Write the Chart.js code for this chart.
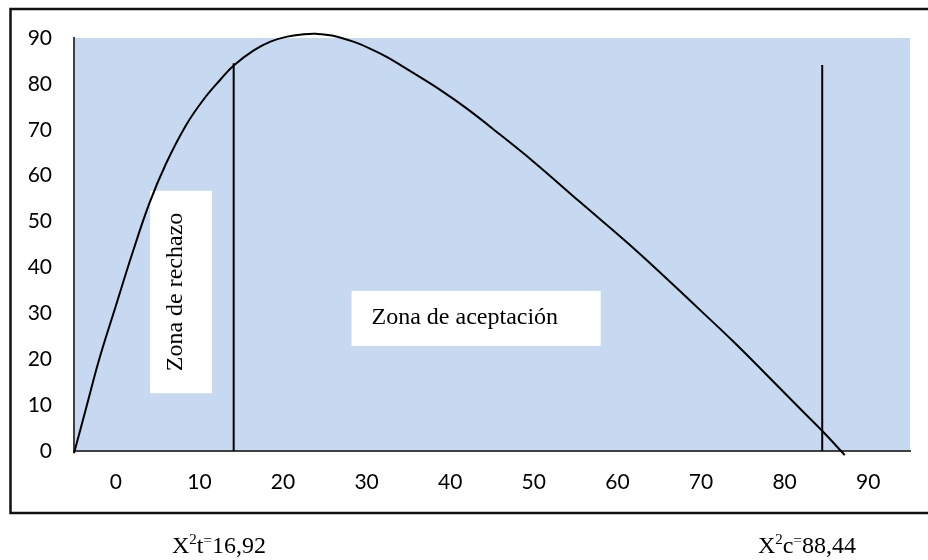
<!DOCTYPE html>
<html>
<head>
<meta charset="utf-8">
<script src="https://cdn.jsdelivr.net/npm/chart.js@4"></script>
<style>
  html, body { margin: 0; padding: 0; background: #fff; }
  #wrap { width: 928px; height: 560px; }
</style>
</head>
<body>
<div id="wrap"><canvas id="chiChart"></canvas></div>
<script>
// curva chi-cuadrado
const curveX = [-5, -3.5, -2.0, 0, 2.0, 4.0, 6.0, 8.4, 10.5, 12.5, 14.1, 16.5, 18.5, 20.5, 22.5, 24.0, 26.0, 28.4, 30.4, 32.4, 34.4, 38.8, 42.0, 46.0, 50.0, 55.5, 62.3, 69.9, 73.9, 77.9, 81.8, 84.6, 87.2];
const curveY = [-0.5, 9.7, 19.9, 31.6, 43.2, 53.9, 62.6, 71.0, 76.6, 80.9, 84.0, 87.3, 89.2, 90.3, 90.8, 90.9, 90.5, 89.2, 87.7, 85.9, 83.7, 78.7, 74.6, 68.9, 63.0, 54.3, 43.6, 30.7, 23.8, 16.5, 9.3, 4.2, -0.9];

// lineas verticales (valor critico)
const lineX = [14.1, 84.5];
const lineTop = [84.5, 84.1];

// etiquetas de los ejes
const xTicks = [0, 10, 20, 30, 40, 50, 60, 70, 80, 90];
const yTicks = [0, 10, 20, 30, 40, 50, 60, 70, 80, 90];

const curvePoints = curveX.map((x, i) => ({ x: x, y: curveY[i] }));

const verticalSets = lineX.map((x, i) => ({
    data: [{ x: x, y: 0 }, { x: x, y: lineTop[i] }],
    showLine: true,
    borderColor: '#000',
    borderWidth: 2,
    pointRadius: 0,
    clip: false
}));

// fondo azul del area de trazado
const plotBackground = {
    id: 'plotBackground',
    beforeDraw(chart) {
        const { ctx, chartArea: a } = chart;
        ctx.save();
        ctx.fillStyle = '#fff';
        ctx.fillRect(0, 0, chart.width, chart.height);
        ctx.fillStyle = '#C6D9F0';
        ctx.fillRect(a.left, a.top, a.right - a.left, a.bottom - a.top);
        ctx.restore();
    }
};

// cuadros de texto "Zona de rechazo" y "Zona de aceptación"
const zoneBoxes = {
    id: 'zoneBoxes',
    beforeDatasetsDraw(chart) {
        const { ctx, scales: { x, y } } = chart;
        ctx.save();
        ctx.fillStyle = '#fff';
        ctx.font = '24px "Liberation Serif", "Times New Roman", serif';

        // rechazo (vertical)
        const l1 = x.getPixelForValue(4.1), r1 = x.getPixelForValue(11.5);
        const t1 = y.getPixelForValue(56.7), b1 = y.getPixelForValue(12.6);
        ctx.fillRect(l1, t1, r1 - l1, b1 - t1);
        ctx.fillStyle = '#000';
        ctx.translate((l1 + r1) / 2 - 5, (t1 + b1) / 2);
        ctx.rotate(-Math.PI / 2);
        ctx.textAlign = 'center';
        ctx.textBaseline = 'middle';
        ctx.fillText('Zona de rechazo', 0, 0);
        ctx.setTransform(1, 0, 0, 1, 0, 0);

        // aceptacion
        const l2 = x.getPixelForValue(28.2), r2 = x.getPixelForValue(58.0);
        const t2 = y.getPixelForValue(34.9), b2 = y.getPixelForValue(22.9);
        ctx.fillStyle = '#fff';
        ctx.fillRect(l2, t2, r2 - l2, b2 - t2);
        ctx.fillStyle = '#000';
        ctx.textAlign = 'left';
        ctx.textBaseline = 'alphabetic';
        ctx.fillText('Zona de aceptación', l2 + 20, t2 + 33);
        ctx.restore();
    }
};

function drawRich(ctx, x, base, parts) {
    parts.forEach(p => {
        ctx.font = p.size + 'px "Liberation Serif", "Times New Roman", serif';
        ctx.fillText(p.t, x, base - (p.rise || 0));
        x += ctx.measureText(p.t).width;
    });
}

// marco exterior y valores de chi-cuadrado
const frameAndNotes = {
    id: 'frameAndNotes',
    afterDraw(chart) {
        const ctx = chart.ctx;
        ctx.save();
        ctx.strokeStyle = '#111';
        ctx.lineWidth = 2.5;
        ctx.strokeRect(10.5, 9, 940, 504);
        ctx.fillStyle = '#000';
        ctx.textBaseline = 'alphabetic';
        drawRich(ctx, 172, 553, [
            { t: 'X', size: 24 }, { t: '2', size: 15, rise: 9 },
            { t: 't', size: 24 }, { t: '=', size: 15, rise: 8 }, { t: '16,92', size: 24 }
        ]);
        drawRich(ctx, 758, 553, [
            { t: 'X', size: 24 }, { t: '2', size: 15, rise: 9 },
            { t: 'c', size: 24 }, { t: '=', size: 15, rise: 8 }, { t: '88,44', size: 24 }
        ]);
        ctx.restore();
    }
};

new Chart(document.getElementById('chiChart'), {
    type: 'scatter',
    data: {
        datasets: [{
            data: curvePoints,
            showLine: true,
            borderColor: '#000',
            borderWidth: 2,
            pointRadius: 0,
            tension: 0.4,
            clip: false
        }, ...verticalSets]
    },
    options: {
        responsive: true,
        maintainAspectRatio: false,
        animation: false,
        layout: { padding: { left: 10, top: 38, right: 18, bottom: 0 } },
        plugins: {
            legend: { display: false },
            tooltip: { enabled: false }
        },
        scales: {
            x: {
                type: 'linear',
                min: -5,
                max: 95,
                grid: { display: false },
                border: { color: '#404040', width: 2 },
                afterBuildTicks: s => { s.ticks = xTicks.map(v => ({ value: v })); },
                afterFit: s => { s.height = 109; },
                ticks: {
                    padding: 11,
                    color: '#000',
                    font: { family: 'Lato', size: 21 }
                }
            },
            y: {
                min: 0,
                max: 90,
                grid: { display: false },
                border: { color: '#404040', width: 2 },
                afterBuildTicks: s => { s.ticks = yTicks.map(v => ({ value: v })); },
                afterFit: s => { s.width = 64; },
                ticks: {
                    padding: 14,
                    color: '#000',
                    font: { family: 'Lato', size: 21 }
                }
            }
        }
    },
    plugins: [plotBackground, zoneBoxes, frameAndNotes]
});
</script>
</body>
</html>
